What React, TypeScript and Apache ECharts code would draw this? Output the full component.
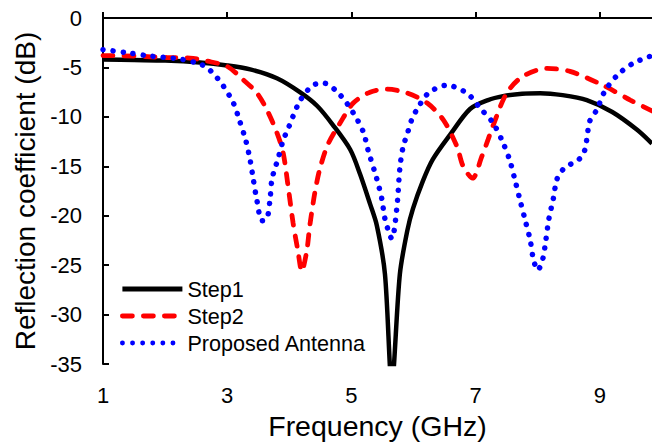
import React, { useEffect, useRef } from "react";
import * as echarts from "echarts";

const xTicks = [1, 3, 5, 7, 9];

const step1Freq = [1.0, 1.5, 2.0, 2.56, 3.0, 3.37, 3.8, 4.17, 4.45, 4.7, 4.98, 5.14, 5.3, 5.41, 5.54, 5.65, 5.78, 5.9, 5.99, 6.15, 6.31, 6.59, 6.91, 7.2, 7.44, 7.75, 8.04, 8.4, 8.79, 9.2, 9.6, 9.84];
const step1Db = [-4.2, -4.25, -4.3, -4.5, -4.8, -5.2, -6.1, -7.5, -8.9, -10.8, -13.3, -15.8, -18.8, -21, -25.9, -37, -25.9, -21.5, -19.3, -16.5, -14.3, -11.8, -9.2, -8.3, -7.9, -7.65, -7.6, -7.8, -8.3, -9.5, -11.3, -12.7];

const step2Freq = [1.0, 1.5, 2.03, 2.4, 2.67, 3.0, 3.25, 3.48, 3.64, 3.8, 3.9, 3.98, 4.06, 4.14, 4.2, 4.28, 4.33, 4.41, 4.49, 4.62, 4.82, 5.03, 5.3, 5.57, 5.9, 6.22, 6.48, 6.7, 6.8, 6.95, 7.1, 7.2, 7.28, 7.5, 7.76, 8.15, 8.52, 9.05, 9.49, 9.84];
const step2Db = [-3.8, -3.85, -4.0, -4.05, -4.35, -4.9, -6.2, -7.6, -9.3, -11.6, -13.6, -17, -20.7, -23.6, -25.6, -23.6, -21, -17.7, -15.3, -12.8, -10.6, -8.6, -7.5, -7.2, -7.6, -8.6, -10.3, -13.0, -15.0, -16.2, -14.0, -12.3, -10.9, -7.6, -5.9, -5.1, -5.4, -6.8, -8.3, -9.4];

const propFreq = [1.0, 1.38, 1.76, 2.24, 2.56, 2.69, 2.83, 2.93, 3.1, 3.2, 3.3, 3.37, 3.42, 3.48, 3.56, 3.64, 3.69, 3.72, 3.77, 3.82, 3.9, 3.98, 4.17, 4.38, 4.56, 4.82, 5.03, 5.19, 5.27, 5.41, 5.49, 5.54, 5.65, 5.73, 5.78, 5.83, 5.91, 5.97, 6.05, 6.24, 6.53, 6.86, 7.07, 7.28, 7.44, 7.55, 7.63, 7.71, 7.8, 7.88, 7.93, 8.0, 8.08, 8.13, 8.18, 8.25, 8.31, 8.41, 8.55, 8.68, 8.76, 8.84, 8.95, 9.08, 9.28, 9.53, 9.84];
const propDb = [-3.2, -3.5, -3.85, -4.15, -4.65, -5.1, -6.0, -6.8, -8.6, -10.4, -12.4, -14.4, -16.3, -18.5, -20.5, -20.3, -18.3, -16.3, -15.2, -14.2, -12.4, -11.2, -8.4, -6.8, -6.6, -7.8, -9.6, -11.5, -13.4, -16.3, -18.3, -20.3, -22.3, -19.3, -15.2, -13.1, -11.5, -10.3, -9.3, -7.6, -6.8, -7.6, -9.1, -10.6, -12.6, -14.4, -16.3, -18.3, -20.5, -22.5, -24.4, -25.5, -24.4, -22.5, -20.3, -18.3, -16.3, -15.3, -14.7, -14.2, -13.3, -10.4, -9.3, -7.4, -5.8, -4.6, -3.8];

const zip = (a: number[], b: number[]) => a.map((v, i) => [v, b[i]]);

const FONT = "'Liberation Sans', Arial, Helvetica, sans-serif";

export default function App() {
  const ref = useRef<HTMLDivElement>(null);
  useEffect(() => {
    if (!ref.current) return;
    const chart = echarts.init(ref.current, undefined, { renderer: "svg" });
    chart.setOption({
      animation: false,
      backgroundColor: "#ffffff",
      textStyle: { fontFamily: FONT },
      grid: { left: 103, right: 0, top: 18, bottom: 73 },
      legend: {
        orient: "vertical",
        left: 115,
        top: 272,
        itemWidth: 60,
        itemHeight: 14,
        itemGap: 3,
        itemStyle: { opacity: 0 },
        lineStyle: { width: 4.8 },
        textStyle: { fontSize: 21.6, color: "#000", fontFamily: FONT, lineHeight: 24 },
        data: ["Step1", "Step2", "Proposed Antenna"],
      },
      xAxis: [
        {
          type: "value",
          min: 1,
          max: 9.84,
          name: "Frequency (GHz)",
          nameLocation: "middle",
          nameGap: 39,
          nameTextStyle: { fontSize: 28.5, color: "#000", fontFamily: FONT },
          axisLine: { show: true, lineStyle: { color: "#000", width: 2 } },
          axisTick: { show: true, inside: true, length: 6, lineStyle: { color: "#000", width: 2 }, customValues: xTicks },
          axisLabel: { fontSize: 22, color: "#000", margin: 20, customValues: xTicks, fontFamily: FONT },
          splitLine: { show: false },
        },
        {
          type: "value",
          position: "top",
          min: 1,
          max: 9.84,
          axisLine: { show: true, lineStyle: { color: "#000", width: 2 } },
          axisTick: { show: false },
          axisLabel: { show: false },
          splitLine: { show: false },
        },
      ],
      yAxis: {
        type: "value",
        min: -35,
        max: 0,
        interval: 5,
        name: "Reflection coefficient (dB)",
        nameLocation: "middle",
        nameGap: 63,
        nameTextStyle: { fontSize: 28, color: "#000", fontFamily: FONT },
        axisLine: { show: true, lineStyle: { color: "#000", width: 2 } },
        axisTick: { show: true, inside: true, length: 6, lineStyle: { color: "#000", width: 2 } },
        axisLabel: { fontSize: 22, color: "#000", margin: 21, fontFamily: FONT },
        splitLine: { show: false },
      },
      series: [
        {
          name: "Step1",
          type: "line",
          data: zip(step1Freq, step1Db),
          showSymbol: false,
          symbol: "none",
          smooth: 0.3,
          clip: true,
          lineStyle: { color: "#000", width: 4.5, type: "solid" },
          itemStyle: { color: "#000" },
        },
        {
          name: "Step2",
          type: "line",
          data: zip(step2Freq, step2Db),
          showSymbol: false,
          symbol: "none",
          smooth: 0.3,
          clip: true,
          lineStyle: { color: "#ff0000", width: 4.8, type: [10, 11], cap: "round" },
          itemStyle: { color: "#ff0000" },
        },
        {
          name: "Proposed Antenna",
          type: "line",
          data: zip(propFreq, propDb),
          showSymbol: false,
          symbol: "none",
          smooth: 0.3,
          clip: true,
          lineStyle: { color: "#0000ff", width: 5.5, type: [0.1, 10], cap: "round" },
          itemStyle: { color: "#0000ff" },
        },
      ],
    });
    return () => chart.dispose();
  }, []);
  return (
    <div
      ref={ref}
      style={{ position: "fixed", left: 0, top: 0, width: 652, height: 445, background: "#fff" }}
    />
  );
}
